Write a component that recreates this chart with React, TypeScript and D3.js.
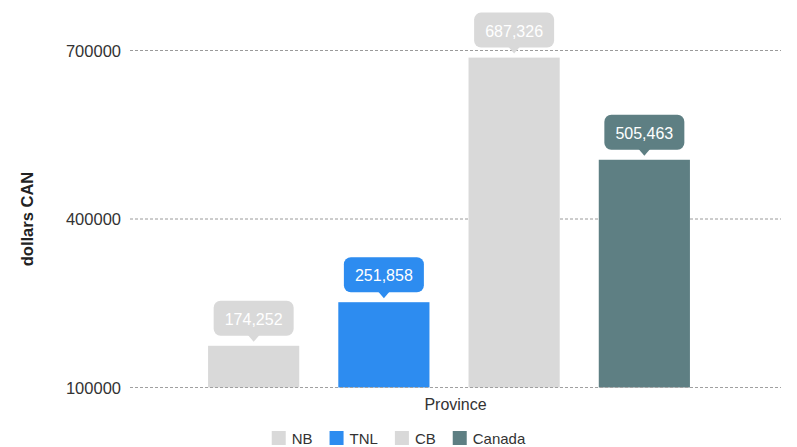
import React from "react";
import * as d3 from "d3";

const categories = ["NB", "TNL", "CB", "Canada"];
const values = [174252, 251858, 687326, 505463];
const colors = ["#d9d9d9", "#2d8cf0", "#d9d9d9", "#5e7f83"];
const yTicks = [100000, 400000, 700000];
const yTitle = "dollars CAN";
const xTitle = "Province";

const W = 797;
const H = 447;
const FONT = "'Liberation Sans', Arial, Helvetica, sans-serif";

function textWidth(t: string, font: string) {
  const c = document.createElement("canvas").getContext("2d");
  if (!c) return t.length * 8;
  c.font = font;
  return c.measureText(t).width;
}

export default function App() {
  const gridX0 = 130;
  const gridX1 = 781;
  const y = d3.scaleLinear().domain([100000, 700000]).range([387.5, 50.5]);
  const x = d3
    .scaleBand<string>()
    .domain(categories)
    .range([169, 729])
    .paddingInner(0.3)
    .paddingOuter(0.3);
  const fmt = d3.format(",");

  // legend layout
  const legFont = `15px ${FONT}`;
  const sq = 14;
  const itemW = categories.map((c) => sq + 6 + textWidth(c, legFont) + 17);
  const totalW = d3.sum(itemW) - 17;
  let lx = W / 2 - totalW / 2;
  const legendPos = itemW.map((w) => {
    const p = lx;
    lx += w;
    return p;
  });
  const legY = 438;

  const boxW = 80;
  const boxH = 35;
  const gap = 10;
  const tri = 6;

  return (
    <svg width={W} height={H} style={{ position: "absolute", left: 0, top: 0, background: "#fff" }}>
      {/* grid */}
      {yTicks.map((t) => (
        <g key={t}>
          <line
            x1={gridX0}
            x2={gridX1}
            y1={y(t)}
            y2={y(t)}
            stroke="#9a9a9a"
            strokeWidth={1}
            strokeDasharray="3,2"
          />
          <text
            x={121}
            y={y(t)}
            textAnchor="end"
            dominantBaseline="central"
            fontFamily={FONT}
            fontSize={16.5}
            fill="#333"
          >
            {t}
          </text>
        </g>
      ))}
      {/* bars */}
      {categories.map((c, i) => (
        <rect
          key={c}
          x={x(c)}
          y={y(values[i])}
          width={x.bandwidth()}
          height={y(100000) - y(values[i])}
          fill={colors[i]}
        />
      ))}
      {/* baseline dashes over bars */}
      <line
        x1={gridX0}
        x2={gridX1}
        y1={y(100000)}
        y2={y(100000)}
        stroke="#a0a0a0"
        strokeWidth={1}
        strokeDasharray="3,2"
      />
      {/* value tooltips */}
      {categories.map((c, i) => {
        const cx = (x(c) as number) + x.bandwidth() / 2;
        const top = y(values[i]);
        const by = top - gap - boxH;
        const bb = top - gap;
        return (
          <g key={"l" + c}>
            <rect x={cx - boxW / 2} y={by} width={boxW} height={boxH} rx={7} fill={colors[i]} />
            <path
              d={`M${cx - 6},${bb - 1} L${cx + 6},${bb - 1} L${cx},${bb + tri} Z`}
              fill={colors[i]}
            />
            <text
              x={cx}
              y={by + boxH / 2 + 1}
              textAnchor="middle"
              dominantBaseline="central"
              fontFamily={FONT}
              fontSize={16}
              fill="#fff"
            >
              {fmt(values[i])}
            </text>
          </g>
        );
      })}
      {/* axis titles */}
      <text
        transform={`translate(27,219) rotate(-90)`}
        textAnchor="middle"
        dominantBaseline="central"
        fontFamily={FONT}
        fontSize={16.5}
        fontWeight="bold"
        fill="#222"
      >
        {yTitle}
      </text>
      <text
        x={(gridX0 + gridX1) / 2}
        y={404}
        textAnchor="middle"
        dominantBaseline="central"
        fontFamily={FONT}
        fontSize={16}
        fill="#333"
      >
        {xTitle}
      </text>
      {/* legend */}
      {categories.map((c, i) => (
        <g key={"g" + c}>
          <rect x={legendPos[i]} y={legY - sq / 2} width={sq} height={sq} fill={colors[i]} />
          <text
            x={legendPos[i] + sq + 6}
            y={legY}
            dominantBaseline="central"
            fontFamily={FONT}
            fontSize={15}
            fill="#333"
          >
            {c}
          </text>
        </g>
      ))}
    </svg>
  );
}
